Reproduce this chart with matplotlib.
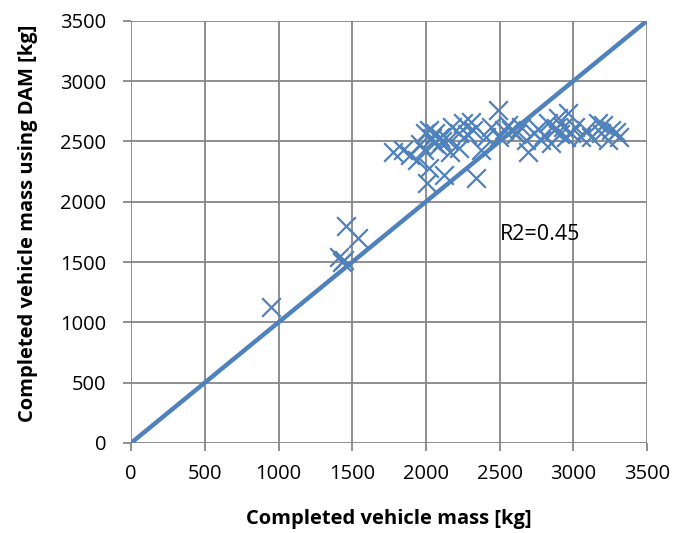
import matplotlib.pyplot as plt

# mittaukset (luettu kuvasta)
mass = [950, 1460, 1540, 1410, 1430, 1445,
        1780, 1848, 1895, 1943, 1984, 1997, 2018, 2065, 2052, 2018, 2010,
        2099, 2147, 2180, 2222, 2255, 2303, 2323, 2337, 2222, 2167, 2120,
        2405, 2371, 2486, 2527, 2493, 2575, 2643, 2690, 2677, 2731, 2778,
        2826, 2846, 2867, 2894, 2928, 2962, 2948, 2982, 3050, 3084, 3166,
        3186, 3254, 3308, 3234, 3118, 1960, 2040, 2080, 2110, 2280, 2440,
        2560, 2610, 2760, 2800, 2880, 2910, 3010, 3290, 3200]
dam = [1130, 1800, 1700, 1540, 1500, 1520,
       2413, 2430, 2388, 2347, 2430, 2570, 2595, 2570, 2488, 2280, 2156,
       2537, 2512, 2620, 2570, 2653, 2662, 2595, 2197, 2446, 2413, 2222,
       2537, 2430, 2761, 2595, 2537, 2595, 2620, 2413, 2512, 2570, 2512,
       2653, 2488, 2595, 2695, 2620, 2736, 2537, 2570, 2537, 2595, 2653,
       2570, 2595, 2537, 2512, 2537, 2480, 2530, 2460, 2500, 2560, 2620,
       2640, 2560, 2600, 2550, 2610, 2560, 2620, 2580, 2640]
line_x = [0, 3500]
line_y = [0, 3500]

blue = '#4F81BD'
plt.rcParams['font.family'] = ['Open Sans', 'DejaVu Sans']

fig = plt.figure(figsize=(6.76, 5.33), dpi=100)
ax = fig.add_axes([0.194, 0.169, 0.763, 0.792])
ax.plot(line_x, line_y, color=blue, lw=3.2, zorder=3)
ax.scatter(mass, dam, marker='x', s=180, color=blue, linewidths=1.6, zorder=4)
ax.text(2500, 1725, 'R2=0.45', fontsize=15.5, va='center')

ax.set_xlim(0, 3500)
ax.set_ylim(0, 3500)
ax.set_xticks(range(0, 3501, 500))
ax.set_yticks(range(0, 3501, 500))
ax.grid(True, color='#868686', lw=1.3)
ax.set_axisbelow(True)
for s in ax.spines.values():
    s.set_visible(False)
ax.tick_params(colors='#868686', labelcolor='black', labelsize=14.5, length=6, width=1.3)
ax.tick_params(axis='x', pad=9)
ax.tick_params(axis='y', pad=12)
ax.set_xlabel('Completed vehicle mass [kg]', fontsize=14.5, fontweight='bold', va='center')
ax.set_ylabel('Completed vehicle mass using DAM [kg]', fontsize=14.5, fontweight='bold', va='center')
ax.xaxis.set_label_coords(0.5, -0.18)
ax.yaxis.set_label_coords(-0.2, 0.52)

fig.savefig('out.png', dpi=100)
